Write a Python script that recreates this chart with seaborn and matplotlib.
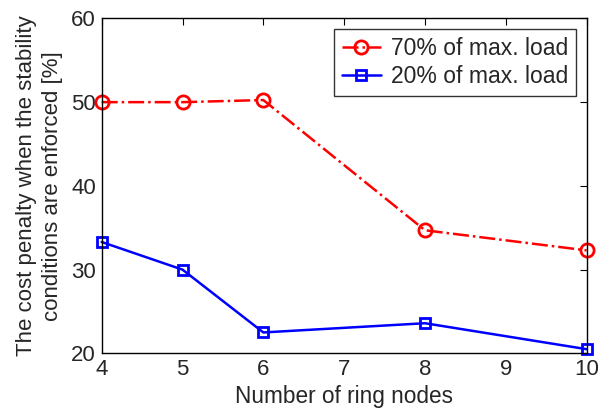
import pandas as pd
import matplotlib
matplotlib.use('Agg')
import matplotlib.pyplot as plt
import seaborn as sns

nodes = [4, 5, 6, 8, 10]
load_70 = [50.0, 50.0, 50.25, 34.7, 32.3]
load_20 = [33.3, 30.0, 22.5, 23.6, 20.5]

df = pd.DataFrame({'nodes': nodes, '70% of max. load': load_70, '20% of max. load': load_20})

sns.set_style('white')
plt.rcParams['font.family'] = ['Liberation Sans', 'DejaVu Sans']

fig = plt.figure(figsize=(6.07, 4.09), dpi=100)
ax = fig.add_axes([0.1675, 0.136, 0.799, 0.819])

sns.lineplot(data=df, x='nodes', y='70% of max. load', ax=ax, color='red', linestyle='-.',
             marker='o', markersize=9.5, markerfacecolor='none', markeredgecolor='red',
             markeredgewidth=2, linewidth=1.8, label='70% of max. load')
sns.lineplot(data=df, x='nodes', y='20% of max. load', ax=ax, color='blue', linestyle='-',
             marker='s', markersize=7.5, markerfacecolor='none', markeredgecolor='blue',
             markeredgewidth=2, linewidth=1.8, label='20% of max. load')

ax.set_xlim(4, 10)
ax.set_ylim(20, 60)
ax.set_xticks(range(4, 11))
ax.set_yticks(range(20, 61, 10))
ax.tick_params(direction='in', top=True, right=True, length=5, labelsize=16, width=0.8,
               color='black', pad=4)
for s in ax.spines.values():
    s.set_color('black')
    s.set_linewidth(1)
ax.set_xlabel('Number of ring nodes', fontsize=16.3, labelpad=4)
ax.set_ylabel('The cost penalty when the stability\nconditions are enforced [%]', fontsize=16,
              labelpad=6, linespacing=1.3)

leg = ax.legend(loc='upper right', fontsize=16.5, frameon=True, fancybox=False, edgecolor='black',
                borderaxespad=0.45, handlelength=1.7, handletextpad=0.45, borderpad=0.35,
                labelspacing=0.25)
leg.get_frame().set_linewidth(1)
for l in ax.lines:
    l.set_clip_on(False)

fig.savefig('out.png', dpi=100)
